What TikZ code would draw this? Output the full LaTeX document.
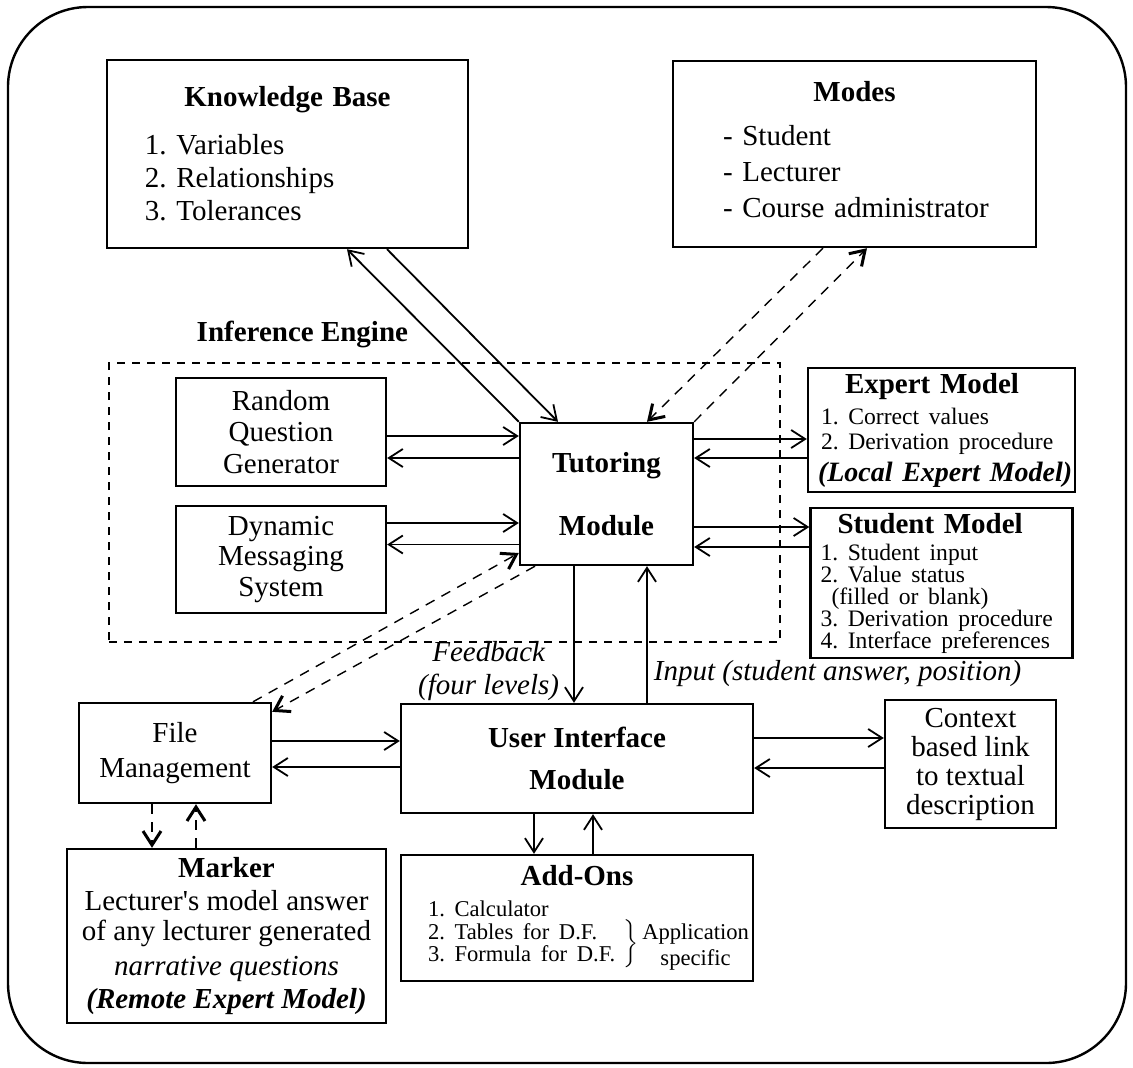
\documentclass[tikz,border=0pt]{standalone}
\usepackage{fontspec}
\setmainfont{Liberation Serif}
\usetikzlibrary{positioning,arrows.meta}
\frenchspacing

\newcommand{\bodyfont}{\fontsize{14.5pt}{16.5pt}\selectfont}
\newcommand{\listfont}{\fontsize{11.8pt}{11pt}\selectfont}

\tikzset{
  module/.style={draw, line width=1.2pt, inner sep=0pt, align=center},
  flow/.style={-{Straight Barb[length=7pt,width=9pt]}, line width=0.9pt},
  dflow/.style={-{Straight Barb[length=7pt,width=9pt,line width=1.5pt]}, line width=0.7pt, dash pattern=on 5pt off 4pt},
}

\begin{document}
\begin{tikzpicture}[on grid, font=\bodyfont]
  \useasboundingbox (-303.25pt,247pt) rectangle (263.25pt,-286.5pt);
  \draw[line width=1.2pt, rounded corners=40pt] (-299.25pt,243.5pt) rectangle (259.75pt,-284.5pt);

  \path
  node[module, font=\bodyfont\bfseries, minimum width=86.5pt, minimum height=71pt] (tut) at (0,0) {Tutoring\\[15pt]Module}
  node[draw, line width=0.6pt, dash pattern=on 4pt off 3.5pt, minimum width=335.5pt, minimum height=139.5pt] (engine) [below left=4.25pt and 81pt of tut] {}
  node[module, text width=180.5pt, align=left, minimum height=94pt] (kb) [above left=170pt and 159.5pt of tut]
    {{\centering\bfseries Knowledge Base\par}\vspace{7.5pt}
     \hspace*{19pt}1. Variables\\
     \hspace*{19pt}2. Relationships\\
     \hspace*{19pt}3. Tolerances}
  node[module, text width=181.5pt, align=left, minimum height=93pt] (modes) [above right=170pt and 124pt of tut]
    {{\centering\bfseries Modes\par}\vspace{5.5pt}
     \hspace*{25pt}- Student\\[1.5pt]
     \hspace*{25pt}- Lecturer\\[1.5pt]
     \hspace*{25pt}- Course administrator\par\kern4pt}
  node[module, minimum width=105pt, minimum height=54pt] (rqg) [above left=31pt and 162.75pt of tut]
    {Random\\[-0.75pt]Question\\[-0.75pt]Generator}
  node[module, minimum width=105pt, minimum height=53.5pt] (dms) [below=63.75pt of rqg]
    {Dynamic\\[-1.25pt]Messaging\\[-1.25pt]System}
  node[module, text width=123.5pt, inner xsep=5pt, align=left, minimum height=62pt] (expert) [above right=32pt and 167.5pt of tut]
    {\hspace*{13.5pt}\textbf{Expert Model}\\[-1pt]
     {\listfont\hspace*{1.5pt}1. Correct values}\\[-4pt]
     {\listfont\hspace*{1.5pt}2. Derivation procedure}\\[-0.5pt]
     \mbox{\fontsize{14pt}{16.5pt}\selectfont\bfseries\itshape (Local Expert Model)}}
  node[module, text width=121pt, inner xsep=5pt, align=left, minimum height=75pt] (student) [below=76.5pt of expert]
    {\hspace*{8.5pt}\textbf{Student Model}\\[-3pt]
     {\listfont 1. Student input}\\[-5.5pt]
     {\listfont 2. Value status}\\[-5.5pt]
     {\listfont\hspace*{5.5pt}(filled or blank)}\\[-5.5pt]
     {\listfont 3. Derivation procedure}\\[-5.5pt]
     {\listfont 4. Interface preferences}}
  node[module, font=\bodyfont\bfseries, minimum width=176pt, minimum height=54.5pt] (ui) [below left=132.25pt and 14.75pt of tut]
    {User Interface\\[4.5pt]Module}
  node[module, minimum width=96pt, minimum height=50pt] (fm) [above left=2.75pt and 201pt of ui]
    {File\\[1pt]Management}
  node[module, minimum width=85.5pt, minimum height=64pt] (context) [below right=2.75pt and 196.75pt of ui]
    {Context\\[-2pt]based link\\[-2pt]to textual\\[-2pt]description}
  node[module, text width=176pt, align=left, minimum height=63pt] (addons) [below=79.75pt of ui]
    {{\centering\bfseries Add-Ons\par}\vspace{4.5pt}
     {\fontsize{11.3pt}{11pt}\selectfont\hspace*{13.5pt}\begin{tabular}[t]{@{}l@{\hspace{4pt}}l@{\hspace{2pt}}c@{}}
       1. Calculator & & \\
       2. Tables for D.F. & \smash{\raisebox{-5.25pt}{$\bigg\}$}} & Application\\
       3. Formula for D.F. & & \raisebox{-2pt}{specific}
     \end{tabular}\par}}
  node[module, minimum width=159.5pt, minimum height=87pt] (marker) [below right=91.5pt and 25.75pt of fm]
    {\textbf{Marker}\\
     Lecturer\textquotesingle s model answer\\[-1.5pt]
     of any lecturer generated\\[1pt]
     \textit{narrative questions}\hspace*{11pt}\\
     \textbf{\itshape (Remote Expert Model)}}
  node[font=\bodyfont\bfseries] (enginelabel) at ([xshift=97pt,yshift=14pt]engine.north west) {Inference Engine}
  ;

  \path[flow]
  ([yshift=-2pt]rqg.east) edge ([yshift=29pt]tut.west)
  ([yshift=18pt]tut.west) edge ([yshift=-13pt]rqg.east)
  ([yshift=18.25pt]dms.east) edge ([yshift=-14.5pt]tut.west)
  ([yshift=-25.25pt]tut.west) edge ([yshift=7.5pt]dms.east)

  ([yshift=27.5pt]tut.east) edge ([yshift=-4.5pt]expert.west)
  ([yshift=-14pt]expert.west) edge ([yshift=18pt]tut.east)
  ([yshift=-16.5pt]tut.east) edge ([yshift=28pt]student.west)
  ([yshift=18pt]student.west) edge ([yshift=-26.5pt]tut.east)

  (tut.north west) edge ([xshift=29.75pt]kb.south)
  ([xshift=49.75pt]kb.south) edge ([xshift=-24.25pt]tut.north)

  ([xshift=-16.25pt]tut.south) edge node[pos=0.77, anchor=east, xshift=-7pt, inner sep=0pt, align=center, font=\bodyfont\itshape]
    {Feedback\\(four levels)} ([xshift=-1.5pt]ui.north)
  ([xshift=35pt]ui.north) edge node[pos=0.217, anchor=west, xshift=3pt, inner sep=0pt, font=\bodyfont\itshape]
    {Input (student answer, position)} ([xshift=20.25pt]tut.south)

  ([yshift=10.25pt]ui.east) edge ([yshift=13pt]context.west)
  ([yshift=-2pt]context.west) edge ([yshift=-4.75pt]ui.east)
  ([yshift=6pt]fm.east) edge ([yshift=8.75pt]ui.west)
  ([yshift=-4.25pt]ui.west) edge ([yshift=-7pt]fm.east)
  ([xshift=-21.5pt]ui.south) edge ([xshift=-21.5pt]addons.north)
  ([xshift=8pt]addons.north) edge ([xshift=8pt]ui.south)
  ;

  \path[dflow]
  ([xshift=-15.75pt]modes.south) edge ([xshift=20.25pt]tut.north)
  (tut.north east) edge ([xshift=6.25pt]modes.south)
  ([xshift=39pt]fm.north) edge ([yshift=-29.5pt]tut.west)
  ([xshift=-35.75pt]tut.south) edge ([yshift=-5pt]fm.north east)
  ([xshift=-11.5pt]fm.south) edge ([xshift=-37.25pt]marker.north)
  ([xshift=-15.25pt]marker.north) edge ([xshift=10.5pt]fm.south)
  ;
\end{tikzpicture}
\end{document}
